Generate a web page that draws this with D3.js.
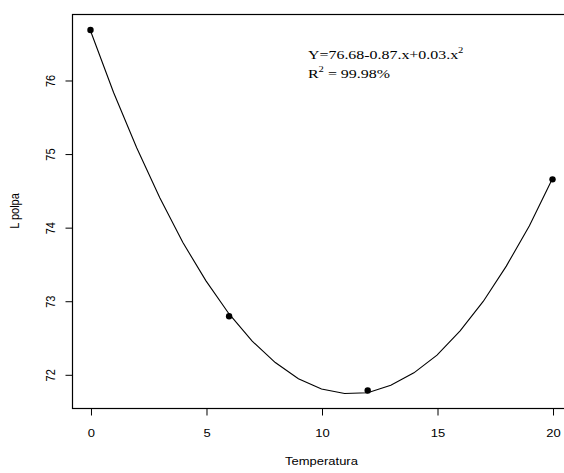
<!DOCTYPE html>
<html>
<head>
<meta charset="utf-8">
<script src="https://cdn.jsdelivr.net/npm/d3@7"></script>
<style>
  body { margin: 0; background: #fff; }
  svg { display: block; }
</style>
</head>
<body>
<svg id="chart" width="564" height="473"></svg>
<script>

// observed means
var temps = [ 0, 6, 12, 20 ];
var lpolpa = [ 76.68, 72.79, 71.78, 74.65 ];

// fitted curve, read at each integer temperature
var curve_x = [ 0, 1, 2, 3, 4, 5, 6, 7, 8, 9, 10, 11, 12, 13, 14, 15, 16, 17, 18, 19, 20 ];
var curve_y = [ 76.67, 75.83, 75.08, 74.40, 73.79, 73.27, 72.82, 72.45, 72.16, 71.94,
    71.80, 71.74, 71.75, 71.85, 72.02, 72.26, 72.59, 72.99, 73.47, 74.02, 74.66 ];

var x_ticks = [ 0, 5, 10, 15, 20 ];
var y_ticks = [ 72, 73, 74, 75, 76 ];

var svg = d3.select( '#chart' );

var x = d3.scaleLinear().domain( [ -0.8, 20.8 ] ).range( [ 72, 571 ] );
var y = d3.scaleLinear().domain( [ 71.542, 76.897 ] ).range( [ 408, 14 ] );

var sans = 'Liberation Sans, Arial, sans-serif';
var serif = 'Liberation Serif, Times New Roman, serif';
var stretch = 1.18; // the source text is a little wide

// box
svg.append( 'rect' )
    .attr( 'x', x( -0.8 ) + 0.5 )
    .attr( 'y', y( 76.897 ) + 0.5 )
    .attr( 'width', x( 20.8 ) - x( -0.8 ) )
    .attr( 'height', y( 71.542 ) - y( 76.897 ) )
    .attr( 'fill', 'none' )
    .attr( 'stroke', '#000' )
    .attr( 'stroke-width', 1.2 );

// x axis
var x_axis = d3.axisBottom( x ).tickValues( x_ticks ).tickSize( 7 ).tickPadding( 14 ).tickFormat( d3.format( 'd' ) );
var gx = svg.append( 'g' ).attr( 'transform', 'translate(0.5,' + ( y( 71.542 ) + 0.5 ) + ')' ).call( x_axis );
gx.select( '.domain' ).remove();
gx.selectAll( 'text' )
    .attr( 'font-family', sans ).attr( 'font-size', 11 ).attr( 'fill', '#000' )
    .attr( 'transform', 'scale(' + stretch + ',1)' );
gx.selectAll( 'line' ).attr( 'stroke', '#000' );

// y axis, labels turned like R's default
var y_axis = d3.axisLeft( y ).tickValues( y_ticks ).tickSize( 7 ).tickFormat( d3.format( 'd' ) );
var gy = svg.append( 'g' ).attr( 'transform', 'translate(' + ( x( -0.8 ) + 0.5 ) + ',0.5)' ).call( y_axis );
gy.select( '.domain' ).remove();
gy.selectAll( 'line' ).attr( 'stroke', '#000' );
gy.selectAll( 'text' )
    .attr( 'font-family', sans ).attr( 'font-size', 11 ).attr( 'fill', '#000' )
    .attr( 'x', null ).attr( 'dy', null )
    .attr( 'text-anchor', 'middle' )
    .attr( 'transform', 'translate(-18,0) scale(' + stretch + ',1) rotate(-90)' );

// axis titles
svg.append( 'text' )
    .attr( 'transform', 'translate(' + ( ( x( -0.8 ) + x( 20.8 ) ) / 2 ) + ',465) scale(' + stretch + ',1)' )
    .attr( 'text-anchor', 'middle' )
    .attr( 'font-family', sans ).attr( 'font-size', 11 )
    .text( 'Temperatura' );

svg.append( 'text' )
    .attr( 'transform', 'translate(19,' + ( ( y( 71.542 ) + y( 76.897 ) ) / 2 ) + ') scale(' + stretch + ',1) rotate(-90)' )
    .attr( 'text-anchor', 'middle' )
    .attr( 'font-family', sans ).attr( 'font-size', 11 )
    .text( 'L polpa' );

// fitted line
var line = d3.line()
    .x( function ( d ) { return x( d[ 0 ] ); } )
    .y( function ( d ) { return y( d[ 1 ] ); } );

svg.append( 'path' )
    .datum( d3.zip( curve_x, curve_y ) )
    .attr( 'd', line )
    .attr( 'fill', 'none' )
    .attr( 'stroke', '#000' )
    .attr( 'stroke-width', 1.1 );

// points
svg.selectAll( 'circle.pt' )
    .data( d3.zip( temps, lpolpa ) )
    .enter().append( 'circle' )
    .attr( 'class', 'pt' )
    .attr( 'cx', function ( d ) { return x( d[ 0 ] ); } )
    .attr( 'cy', function ( d ) { return y( d[ 1 ] ); } )
    .attr( 'r', 3.2 )
    .attr( 'fill', '#000' );

// equation text
var eq = svg.append( 'text' )
    .attr( 'transform', 'translate(308,59) scale(' + stretch + ',1)' )
    .attr( 'font-family', serif ).attr( 'font-size', 13.5 );
eq.append( 'tspan' ).text( 'Y=76.68-0.87.x+0.03.x' );
eq.append( 'tspan' ).attr( 'font-size', 9 ).attr( 'dy', -6 ).text( '2' );

var r2 = svg.append( 'text' )
    .attr( 'transform', 'translate(308,78) scale(' + stretch + ',1)' )
    .attr( 'font-family', serif ).attr( 'font-size', 13.5 );
r2.append( 'tspan' ).text( 'R' );
r2.append( 'tspan' ).attr( 'font-size', 9 ).attr( 'dy', -6 ).text( '2' );
r2.append( 'tspan' ).attr( 'dy', 6 ).text( ' = 99.98%' );

</script>
</body>
</html>
